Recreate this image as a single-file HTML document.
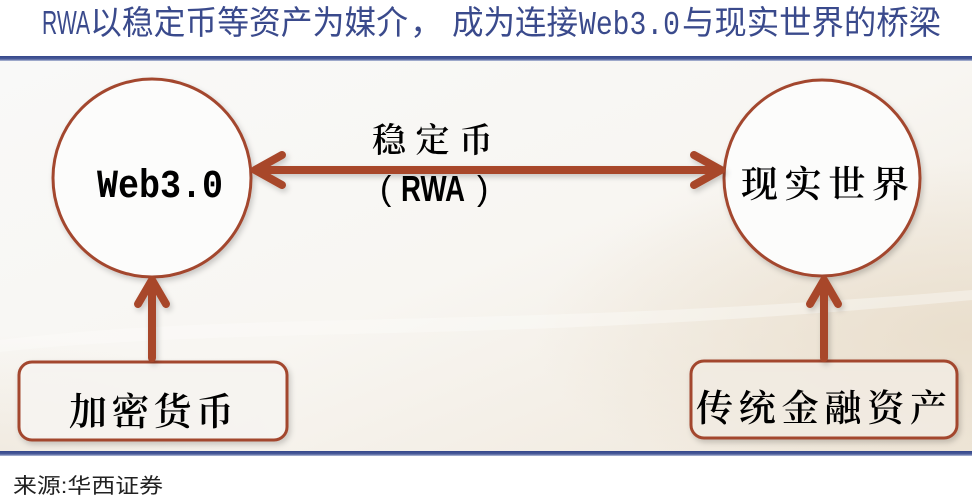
<!DOCTYPE html>
<html><head><meta charset="utf-8"><style>
html,body{margin:0;padding:0;background:#fff;}
svg{display:block;}
</style></head><body>
<svg width="972" height="500" viewBox="0 0 972 500" xmlns="http://www.w3.org/2000/svg">
<defs>
<linearGradient id="bg" x1="0" y1="0" x2="1" y2="1">
<stop offset="0" stop-color="#f9f9f8"/>
<stop offset="0.5" stop-color="#f8f6f2"/>
<stop offset="1" stop-color="#efe7da"/>
</linearGradient>
<radialGradient id="warmR" cx="1" cy="0.7" r="0.45">
<stop offset="0" stop-color="#e8dcc9" stop-opacity="0.85"/>
<stop offset="1" stop-color="#e8dcc9" stop-opacity="0"/>
</radialGradient>
<radialGradient id="warmL" cx="0" cy="1" r="0.3">
<stop offset="0" stop-color="#ece3d5" stop-opacity="0.6"/>
<stop offset="1" stop-color="#ece3d5" stop-opacity="0"/>
</radialGradient>
<linearGradient id="bar" x1="0" y1="0" x2="0" y2="1">
<stop offset="0" stop-color="#34478a"/>
<stop offset="0.6" stop-color="#4a5c9a"/>
<stop offset="1" stop-color="#b9c1da"/>
</linearGradient>
<filter id="sh" x="-20%" y="-20%" width="140%" height="140%">
<feDropShadow dx="2" dy="3" stdDeviation="3" flood-color="#000" flood-opacity="0.2"/>
</filter>
</defs>

<!-- diagram background -->
<rect x="0" y="60" width="972" height="393" fill="url(#bg)"/>
<rect x="0" y="60" width="972" height="393" fill="url(#warmR)"/>
<rect x="0" y="60" width="972" height="393" fill="url(#warmL)"/>
<path d="M0 340 C 250 310, 500 330, 972 290 L972 300 C 500 345, 250 325, 0 352 Z" fill="#fdfcfa" opacity="0.4"/>

<!-- title -->
<g font-family="'Liberation Sans','Noto Sans CJK SC',sans-serif" font-size="33" fill="#3a4a8c">
<text x="42" y="34" textLength="48" lengthAdjust="spacingAndGlyphs">RWA</text>
<text x="90" y="34" textLength="318" lengthAdjust="spacingAndGlyphs" font-family="'Noto Sans CJK SC',sans-serif">以稳定币等资产为媒介</text>
<text x="410" y="34" font-family="'Noto Sans CJK SC',sans-serif">，</text>
<text x="452" y="34" textLength="126" lengthAdjust="spacingAndGlyphs" font-family="'Noto Sans CJK SC',sans-serif">成为连接</text>
<text x="579" y="34" textLength="101" lengthAdjust="spacingAndGlyphs" font-family="'Liberation Mono',monospace">Web3.0</text>
<text x="682" y="34" textLength="259" lengthAdjust="spacingAndGlyphs" font-family="'Noto Sans CJK SC',sans-serif">与现实世界的桥梁</text>
</g>

<!-- top / bottom bars -->
<rect x="0" y="56" width="972" height="5" fill="url(#bar)"/>
<rect x="0" y="451" width="972" height="5" fill="url(#bar)"/>

<!-- circles -->
<circle cx="152" cy="178" r="99" fill="#fcfcfb" stroke="#a3472f" stroke-width="3" filter="url(#sh)"/>
<circle cx="822" cy="178" r="98" fill="#fcfcfb" stroke="#a3472f" stroke-width="3" filter="url(#sh)"/>

<!-- boxes -->
<rect x="19" y="362" width="268" height="78" rx="13" fill="#f9f7f3" fill-opacity="0.85" stroke="#a3472f" stroke-width="3" filter="url(#sh)"/>
<rect x="691" y="361" width="266" height="77" rx="13" fill="#f5efe5" fill-opacity="0.85" stroke="#a3472f" stroke-width="3" filter="url(#sh)"/>

<!-- arrows -->
<g stroke="#a8472b" stroke-width="8" stroke-linecap="round" stroke-linejoin="round" fill="none" filter="url(#sh)">
<line x1="258" y1="170" x2="718" y2="170"/>
<polyline points="282,155 255,170 282,185"/>
<polyline points="694,155 721,170 694,185"/>
<line x1="152" y1="283" x2="152" y2="358"/>
<polyline points="138,304 152,280 166,304"/>
<line x1="824" y1="283" x2="824" y2="358"/>
<polyline points="810,304 824,280 838,304"/>
</g>

<!-- node labels -->
<text x="97" y="197" font-family="'Liberation Mono',monospace" font-weight="bold" font-size="40" textLength="126" lengthAdjust="spacingAndGlyphs" fill="#000">Web3.0</text>
<g font-family="'Noto Serif CJK SC','Noto Sans CJK SC',serif" font-weight="600" fill="#000">
<text x="741" y="197" font-size="37" textLength="168" lengthAdjust="spacing">现实世界</text>
<text x="69" y="425" font-size="38" textLength="165" lengthAdjust="spacing">加密货币</text>
<text x="696" y="421" font-size="37" textLength="251" lengthAdjust="spacing">传统金融资产</text>
<text x="372" y="152" font-size="34" textLength="121" lengthAdjust="spacing">稳定币</text>
</g>
<g fill="#000">
<text x="380" y="200" font-family="'Liberation Sans',sans-serif" font-size="34">(</text>
<text x="401" y="201" font-family="'Liberation Sans',sans-serif" font-weight="bold" font-size="36" textLength="64" lengthAdjust="spacingAndGlyphs">RWA</text>
<text x="477" y="200" font-family="'Liberation Sans',sans-serif" font-size="34">)</text>
</g>

<!-- source -->
<text x="13" y="493" font-family="'Liberation Sans','Noto Sans CJK SC',sans-serif" font-size="21" fill="#222" textLength="150" lengthAdjust="spacingAndGlyphs">来源:华西证券</text>
</svg>
</body></html>
